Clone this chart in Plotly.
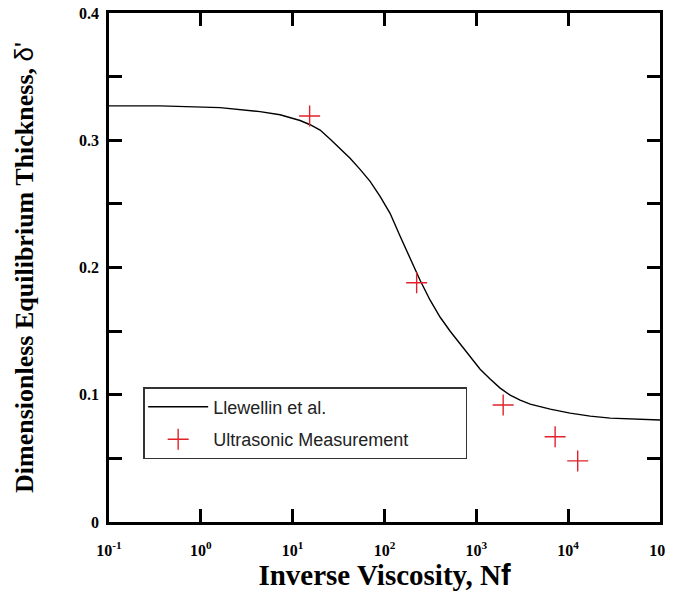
import plotly.graph_objects as go

# Llewellin et al. model curve
nf_curve = [0.1, 0.36, 1.62, 2.67, 4.41, 7.29, 9.4, 12.05, 15.5, 19.9, 25.5, 32.8, 42.2,
            54.2, 69.7, 89.5, 115, 148, 190, 244, 314, 404, 519, 667, 856, 1100,
            1413, 1816, 2335, 3000, 3855, 6370, 10500, 17400, 28700, 47300, 100000]
delta_curve = [0.327, 0.327, 0.3256, 0.3242, 0.3225, 0.3200, 0.3180, 0.3155, 0.3122,
               0.3080, 0.3010, 0.2936, 0.2858, 0.2771, 0.2677, 0.2559, 0.2426, 0.2245,
               0.2073, 0.1900, 0.1743, 0.1609, 0.1499, 0.1397, 0.1295, 0.1201, 0.1123,
               0.1052, 0.0997, 0.0958, 0.0926, 0.0887, 0.0856, 0.0832, 0.0816, 0.0809,
               0.0801]

# Ultrasonic measurements
nf_meas = [15.3, 224, 1960, 7210, 12700]
delta_meas = [0.319, 0.188, 0.092, 0.067, 0.048]

x_tick_vals = [0.1, 1, 10, 100, 1000, 10000, 100000]
x_tick_text = ["10<sup>-1</sup>", "10<sup>0</sup>", "10<sup>1</sup>", "10<sup>2</sup>",
               "10<sup>3</sup>", "10<sup>4</sup>", "10<sup>5</sup>"]
y_tick_vals = [0, 0.1, 0.2, 0.3, 0.4]
y_tick_text = ["0", "0.1", "0.2", "0.3", "0.4"]
y_minor_vals = [0.05, 0.15, 0.25, 0.35]

serif = "Liberation Serif"
sans = "Liberation Sans"

fig = go.Figure()
fig.add_trace(go.Scatter(
    x=nf_curve, y=delta_curve, mode="lines", name="Llewellin et al.",
    line=dict(color="black", width=1.4), legendgroup="model",
))
fig.add_trace(go.Scatter(
    x=nf_meas, y=delta_meas, mode="markers", name="Ultrasonic Measurement",
    marker=dict(symbol="cross-thin", size=15, line=dict(color="#e0232b", width=1.4),
                color="#e0232b"),
    legendgroup="meas",
))

axis_common = dict(
    showgrid=False, zeroline=False, showline=True, linecolor="black", linewidth=2.5,
    ticks="inside", ticklen=13, tickwidth=2.5, tickcolor="black", mirror="allticks",
    automargin=False, ticklabeloverflow="allow",
    tickfont=dict(family=serif, size=16, color="black", weight="bold"),
)

fig.update_layout(
    width=673, height=595,
    margin=dict(l=101, r=21, t=4.5, b=81),
    plot_bgcolor="white", paper_bgcolor="white",
    showlegend=True,
    legend=dict(
        orientation="h", entrywidth=247, entrywidthmode="pixels",
        traceorder="grouped", tracegroupgap=6,
        x=0.062, y=0.265, xanchor="left", yanchor="top",
        bgcolor="white", bordercolor="#333333", borderwidth=1.5,
        font=dict(family=sans, size=18, color="#222222"),
        itemwidth=60,
    ),
    xaxis=dict(
        type="log", range=[-1, 5], tickvals=x_tick_vals, ticktext=x_tick_text,
        ticklabelstandoff=12,
        title=dict(text="<b>Inverse Viscosity, N<span style='font-family:Liberation Sans'>f</span></b>",
                   font=dict(family=serif, size=29, color="black"), standoff=0),
        **axis_common,
    ),
    yaxis=dict(
        range=[0, 0.4], tickvals=y_tick_vals, ticktext=y_tick_text,
        ticklabelstandoff=4,
        minor=dict(tickvals=y_minor_vals, ticks="inside", ticklen=13, tickwidth=2.5,
                   tickcolor="black"),
        title=dict(text="<b>Dimensionless Equilibrium Thickness,</b> <span style='font-family:Liberation Sans'>δ'</span>",
                   font=dict(family=serif, size=26, color="black"), standoff=38),
        **axis_common,
    ),
)

fig.write_html("out.html")
